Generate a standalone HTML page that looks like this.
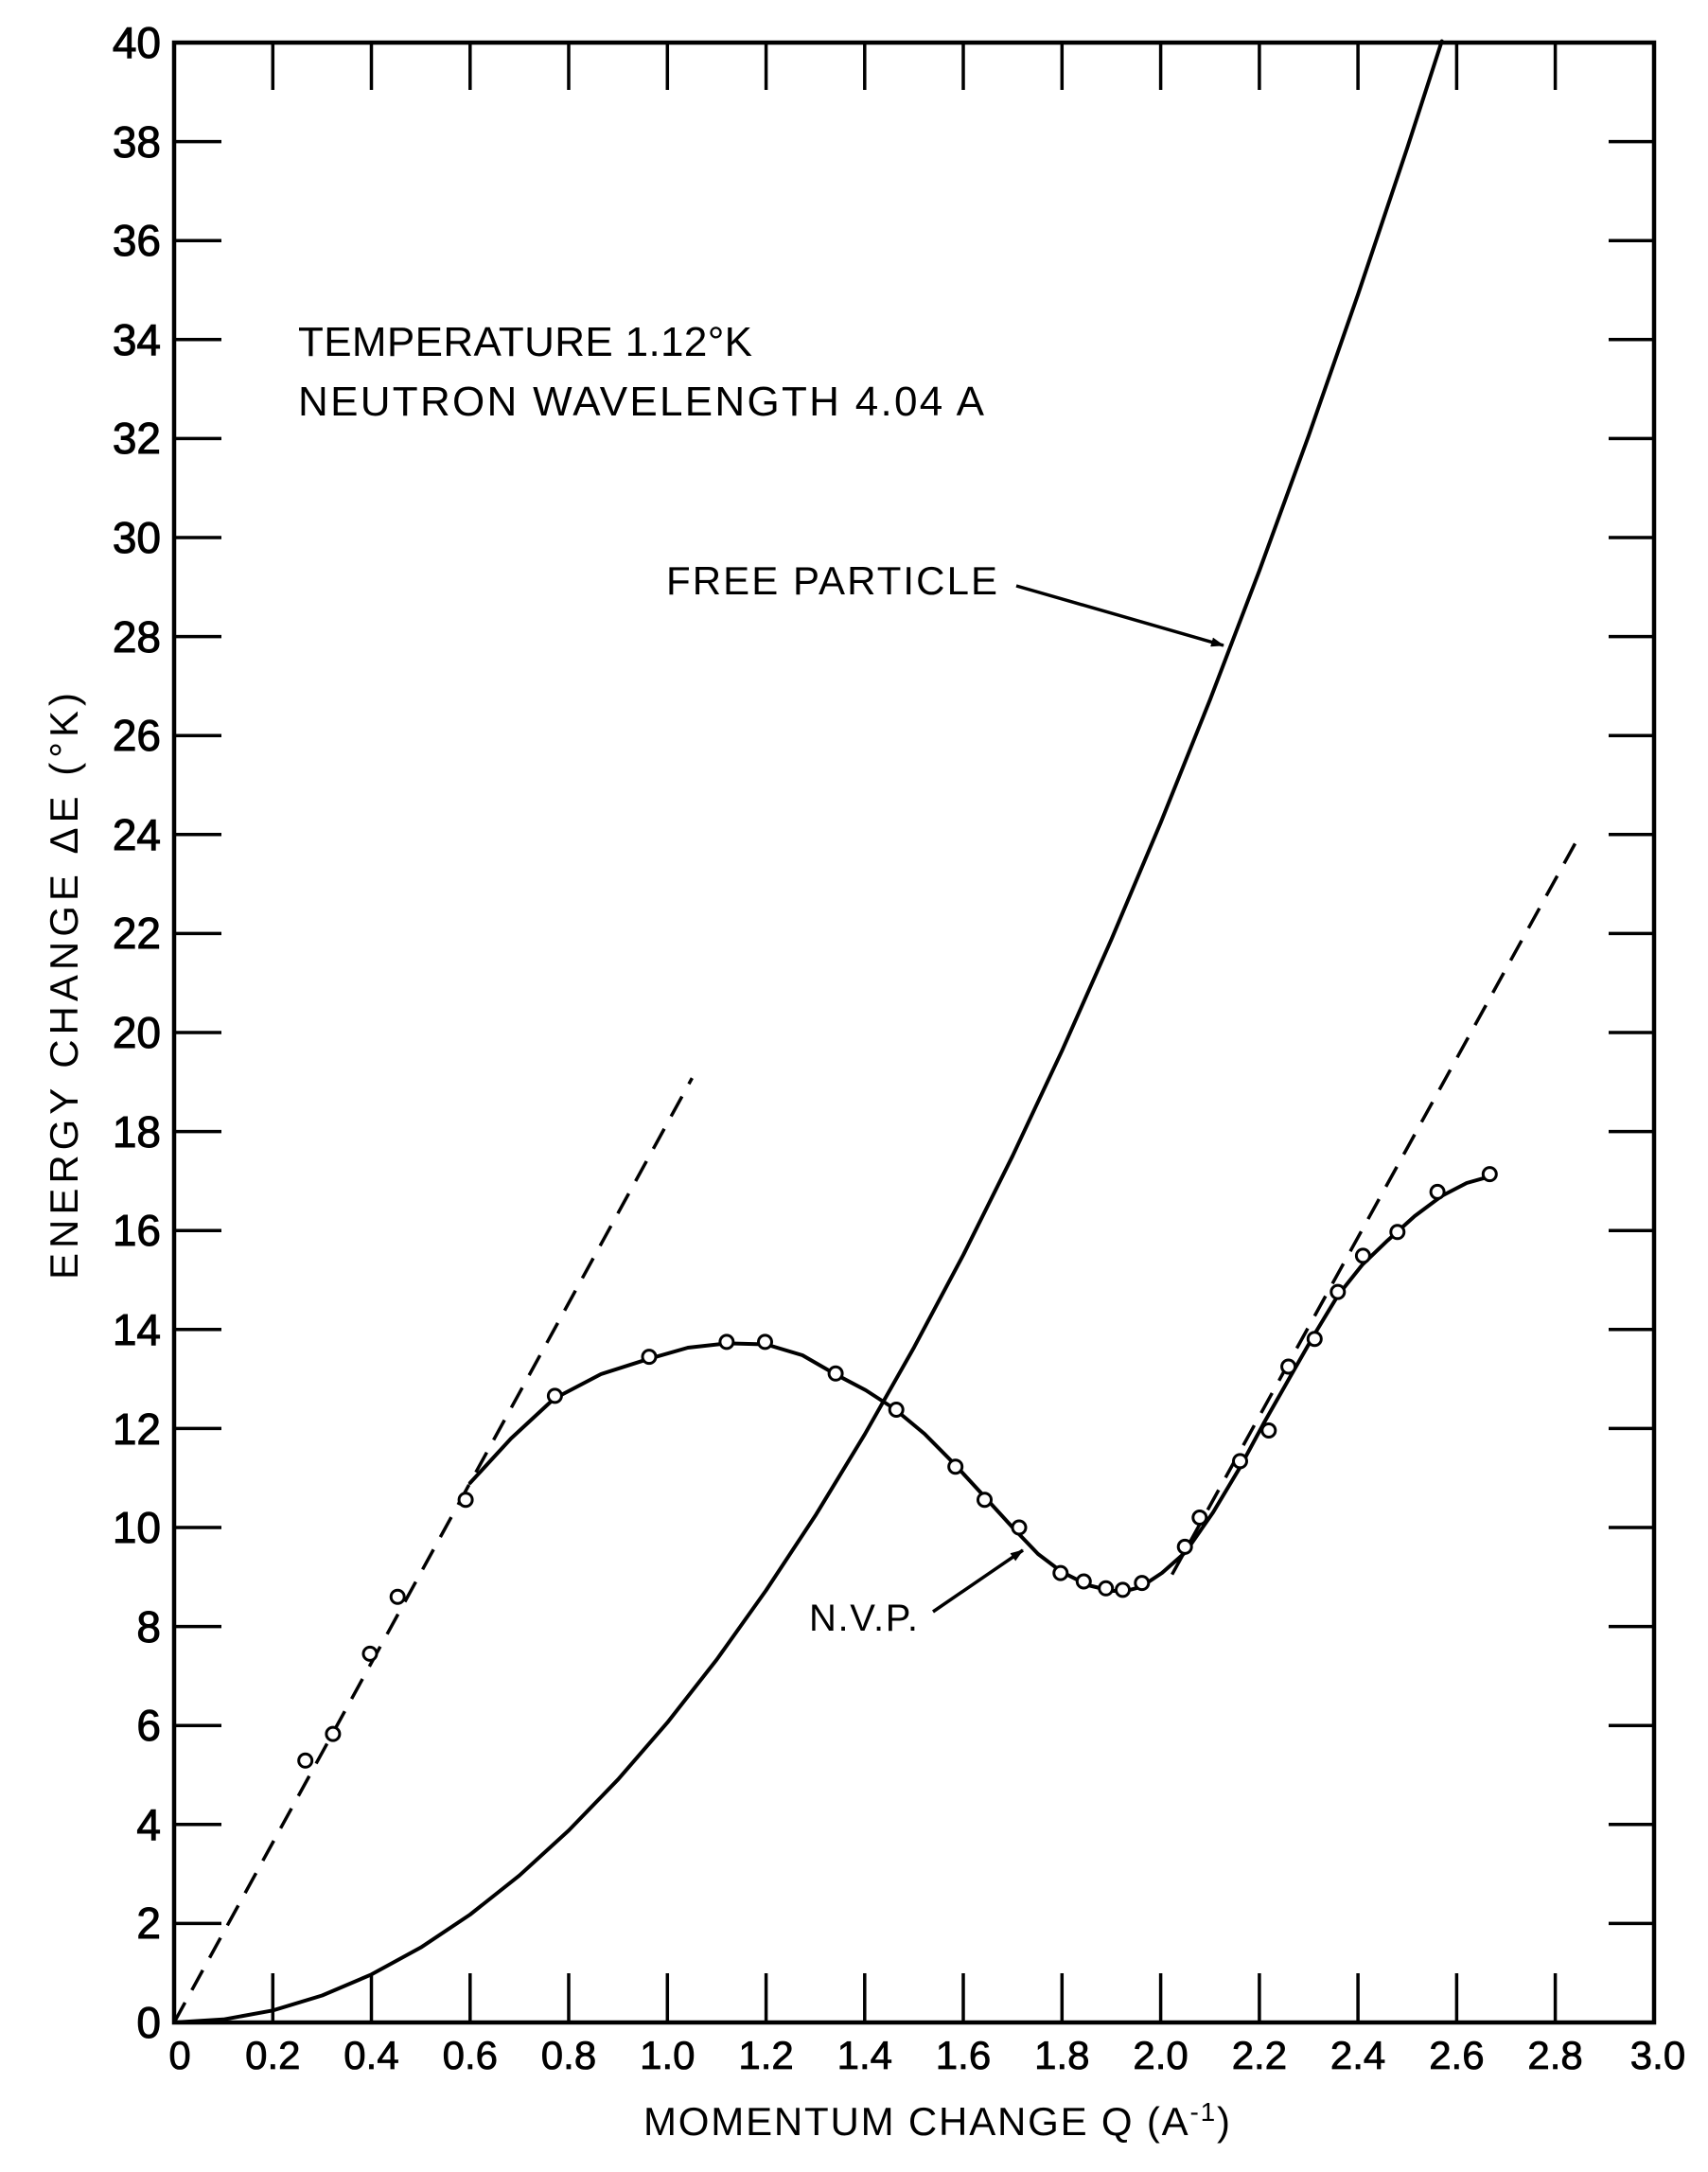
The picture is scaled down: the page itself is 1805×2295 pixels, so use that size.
<!DOCTYPE html>
<html><head><meta charset="utf-8"><style>
html,body{margin:0;padding:0;background:#fff;}
svg{display:block;}
text{font-family:"Liberation Sans",sans-serif;fill:#000;}
</style></head><body>
<svg width="1805" height="2295" viewBox="0 0 1805 2295" xmlns="http://www.w3.org/2000/svg">
<defs><marker id="ah" markerWidth="14" markerHeight="10" refX="13" refY="5" orient="auto" markerUnits="userSpaceOnUse" viewBox="0 0 14 10"><path d="M0,0 L14,5 L0,10 z" fill="#000"/></marker></defs>
<rect x="184" y="45" width="1564" height="2092" fill="none" stroke="#000" stroke-width="4.5"/>
<g stroke="#000" stroke-width="3.5">
<path d="M288.3,2137v-52M392.5,2137v-52M496.8,2137v-52M601,2137v-52M705.3,2137v-52M809.6,2137v-52M913.8,2137v-52M1018,2137v-52M1122.3,2137v-52M1226.6,2137v-52M1330.9,2137v-52M1435.1,2137v-52M1539.4,2137v-52M1643.6,2137v-52"/>
<path d="M288.3,45v50M392.5,45v50M496.8,45v50M601,45v50M705.3,45v50M809.6,45v50M913.8,45v50M1018,45v50M1122.3,45v50M1226.6,45v50M1330.9,45v50M1435.1,45v50M1539.4,45v50M1643.6,45v50"/>
<path d="M184,2032.4h50M184,1927.8h50M184,1823.2h50M184,1718.6h50M184,1614h50M184,1509.4h50M184,1404.8h50M184,1300.2h50M184,1195.6h50M184,1091h50M184,986.4h50M184,881.8h50M184,777.2h50M184,672.6h50M184,568h50M184,463.4h50M184,358.8h50M184,254.2h50M184,149.6h50"/>
<path d="M1748,2032.4h-48M1748,1927.8h-48M1748,1823.2h-48M1748,1718.6h-48M1748,1614h-48M1748,1509.4h-48M1748,1404.8h-48M1748,1300.2h-48M1748,1195.6h-48M1748,1091h-48M1748,986.4h-48M1748,881.8h-48M1748,777.2h-48M1748,672.6h-48M1748,568h-48M1748,463.4h-48M1748,358.8h-48M1748,254.2h-48M1748,149.6h-48"/>
</g>
<g font-size="46" text-anchor="end" stroke="#000" stroke-width="1">
<text x="170" y="2153">0</text><text x="170" y="2048">2</text><text x="170" y="1944">4</text><text x="170" y="1839">6</text><text x="170" y="1735">8</text><text x="170" y="1630">10</text><text x="170" y="1526">12</text><text x="170" y="1421">14</text><text x="170" y="1316">16</text><text x="170" y="1212">18</text><text x="170" y="1107">20</text><text x="170" y="1002">22</text><text x="170" y="898">24</text><text x="170" y="793">26</text><text x="170" y="689">28</text><text x="170" y="584">30</text><text x="170" y="479">32</text><text x="170" y="375">34</text><text x="170" y="270">36</text><text x="170" y="166">38</text><text x="170" y="61">40</text>
</g>
<g font-size="42" text-anchor="middle" stroke="#000" stroke-width="0.8">
<text x="190" y="2186">0</text><text x="288.3" y="2186">0.2</text><text x="392.5" y="2186">0.4</text><text x="496.8" y="2186">0.6</text><text x="601" y="2186">0.8</text><text x="705.3" y="2186">1.0</text><text x="809.6" y="2186">1.2</text><text x="913.8" y="2186">1.4</text><text x="1018" y="2186">1.6</text><text x="1122.3" y="2186">1.8</text><text x="1226.6" y="2186">2.0</text><text x="1330.9" y="2186">2.2</text><text x="1435.1" y="2186">2.4</text><text x="1539.4" y="2186">2.6</text><text x="1643.6" y="2186">2.8</text><text x="1752" y="2186">3.0</text>
</g>
<text x="680" y="2256" font-size="42" textLength="620" lengthAdjust="spacing">MOMENTUM  CHANGE  Q (A<tspan font-size="28" dy="-15">-1</tspan><tspan dy="15">)</tspan></text>
<text transform="translate(82,1352) rotate(-90)" font-size="42" textLength="620" lengthAdjust="spacing">ENERGY  CHANGE   ΔE (°K)</text>
<text x="315" y="376" font-size="44" textLength="480">TEMPERATURE  1.12°K</text>
<text x="315" y="439" font-size="44" textLength="725">NEUTRON  WAVELENGTH  4.04  A</text>
<text x="704" y="628" font-size="42" textLength="350">FREE  PARTICLE</text>
<text x="855" y="1723" font-size="40" textLength="115">N.V.P.</text>
<g stroke="#000" stroke-width="3.5" fill="none">
<line x1="1074" y1="619" x2="1293" y2="682" marker-end="url(#ah)"/>
<line x1="986" y1="1703" x2="1081" y2="1638" marker-end="url(#ah)"/>
</g>
<g fill="none" stroke="#000" stroke-width="4" stroke-linejoin="round" stroke-linecap="round">
<polyline points="184,2137 236.1,2133.8 288.3,2124.3 340.4,2108.5 392.5,2086.3 444.7,2057.8 496.8,2023 548.9,1981.7 601,1934.1 653.2,1880.2 705.3,1820.1 757.4,1753.6 809.6,1680.4 861.7,1601.4 913.8,1515.7 966,1423.6 1018.1,1325.8 1070.2,1221.2 1122.3,1110.3 1174.5,992.7 1226.6,869.3 1278.7,739.5 1330.9,603 1383,460.3 1435.1,311.2 1487.3,155.9 1523.7,43.5"/>
<polyline points="496.8,1566.9 540,1520 585.4,1478 635,1452 684.4,1436.2 727,1424 767.9,1419.4 809.6,1420.5 848,1432 882.5,1451.9 915,1469 945.1,1488.5 977,1515 1007.7,1546 1040,1581 1070.2,1614 1097,1642 1122.3,1661.1 1150,1675 1174.5,1681 1190,1681 1205.7,1676.8 1228,1662 1252.7,1640.2 1282,1598 1310,1551.2 1336,1503 1362.1,1457.1 1389,1410 1414.3,1368.2 1440,1336 1466.4,1310.7 1495,1285 1523.7,1263.6 1550,1250 1575.9,1242.7"/>
</g>
<g stroke="#000" stroke-width="3.5" stroke-dasharray="24,15" fill="none">
<line x1="184" y1="2137" x2="731.4" y2="1139.1"/>
<line x1="1238.6" y1="1663.7" x2="1669.2" y2="882.9"/>
</g>
<g fill="#fff" stroke="#000" stroke-width="3">
<circle cx="322.7" cy="1860.3" r="7"/><circle cx="351.9" cy="1832.1" r="7"/><circle cx="391" cy="1747.4" r="7"/><circle cx="420.2" cy="1687.2" r="7"/><circle cx="492.1" cy="1584.7" r="7"/><circle cx="586.4" cy="1474.9" r="7"/><circle cx="686" cy="1433.6" r="7"/><circle cx="767.9" cy="1417.9" r="7"/><circle cx="808.5" cy="1417.9" r="7"/><circle cx="883.1" cy="1451.3" r="7"/><circle cx="947.2" cy="1489.5" r="7"/><circle cx="1009.7" cy="1549.7" r="7"/><circle cx="1040.5" cy="1584.7" r="7"/><circle cx="1077" cy="1614" r="7"/><circle cx="1120.8" cy="1662.1" r="7"/><circle cx="1145.3" cy="1671" r="7"/><circle cx="1168.7" cy="1678.3" r="7"/><circle cx="1186.5" cy="1679.9" r="7"/><circle cx="1206.8" cy="1672.6" r="7"/><circle cx="1252.2" cy="1634.4" r="7"/><circle cx="1267.8" cy="1603.5" r="7"/><circle cx="1310.5" cy="1543.9" r="7"/><circle cx="1340.8" cy="1511.5" r="7"/><circle cx="1361.6" cy="1444" r="7"/><circle cx="1389.3" cy="1414.7" r="7"/><circle cx="1413.8" cy="1365.1" r="7"/><circle cx="1440.4" cy="1326.9" r="7"/><circle cx="1476.8" cy="1301.8" r="7"/><circle cx="1519.1" cy="1259.4" r="7"/><circle cx="1574.3" cy="1240.6" r="7"/>
</g>
</svg>
</body></html>
